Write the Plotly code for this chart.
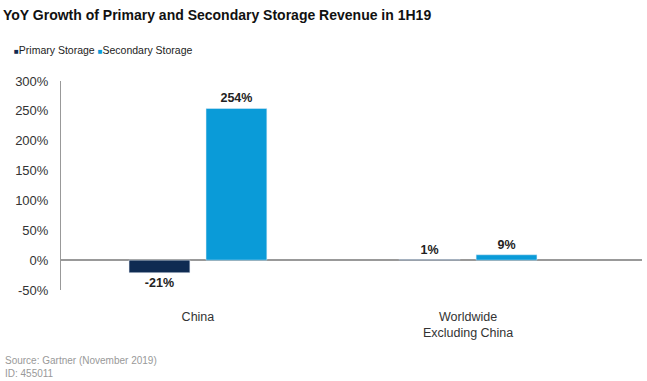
import plotly.graph_objects as go

categories = ["China", "Worldwide<br>Excluding China"]
series_names = ["Primary Storage", "Secondary Storage"]
primary = [-21, 1]
secondary = [254, 9]
y_ticks = [-50, 0, 50, 100, 150, 200, 250, 300]
colors = ["#0f2b52", "#0a9bd8"]

FONT = "Liberation Sans, Arial, sans-serif"

fig = go.Figure()
for name, vals, col in zip(series_names, [primary, secondary], colors):
    fig.add_trace(go.Bar(
        name=name, x=categories, y=vals,
        marker_color=col,
        text=[f"<b>{v}%</b>" for v in vals], textposition="outside",
        textfont=dict(size=12.5, color="#222"), cliponaxis=False,
        showlegend=False,
    ))

fig.update_layout(
    width=647, height=381,
    margin=dict(l=61, r=5, t=81, b=91),
    paper_bgcolor="white", plot_bgcolor="white",
    font=dict(family=FONT, size=13, color="#333"),
    barmode="group", bargap=0.43, bargroupgap=0.21,
    title=dict(text="<b>YoY Growth of Primary and Secondary Storage Revenue in 1H19</b>",
               x=3 / 647, xanchor="left", y=1 - 15 / 381, yanchor="middle",
               font=dict(size=14, color="#111")),
    xaxis=dict(range=[-0.507, 1.644], showline=False, showgrid=False,
               ticks="", tickfont=dict(size=12.5, color="#333"), zeroline=False,
               ticklabelstandoff=17),
    yaxis=dict(range=[-50, 300], tickvals=y_ticks,
               ticktext=[f"{v}%" for v in y_ticks],
               showgrid=False, showline=True, linecolor="#999", linewidth=1,
               zeroline=True, zerolinecolor="#999", zerolinewidth=1.5,
               tickfont=dict(size=13, color="#333"), ticks="", ticklabelstandoff=9),
)

legend_text = " ".join(
    f"<span style='color:{c}; font-size:8px'>■</span>{n}" for n, c in zip(series_names, colors)
)
fig.add_annotation(text=legend_text, xref="paper", yref="paper",
                   x=(12 - 61) / 581, y=(290 - 50) / 209, xanchor="left", yanchor="middle",
                   showarrow=False, font=dict(size=10.5, color="#222"))

fig.add_annotation(text="Source: Gartner (November 2019)<br>ID: 455011",
                   xref="paper", yref="paper", x=(3 - 61) / 581, y=-(353 - 290) / 209,
                   xanchor="left", yanchor="top", showarrow=False, align="left",
                   font=dict(size=10, color="#999"))

fig.write_html("out.html", config={"displayModeBar": False},
               post_script="document.body.style.margin='0';")
